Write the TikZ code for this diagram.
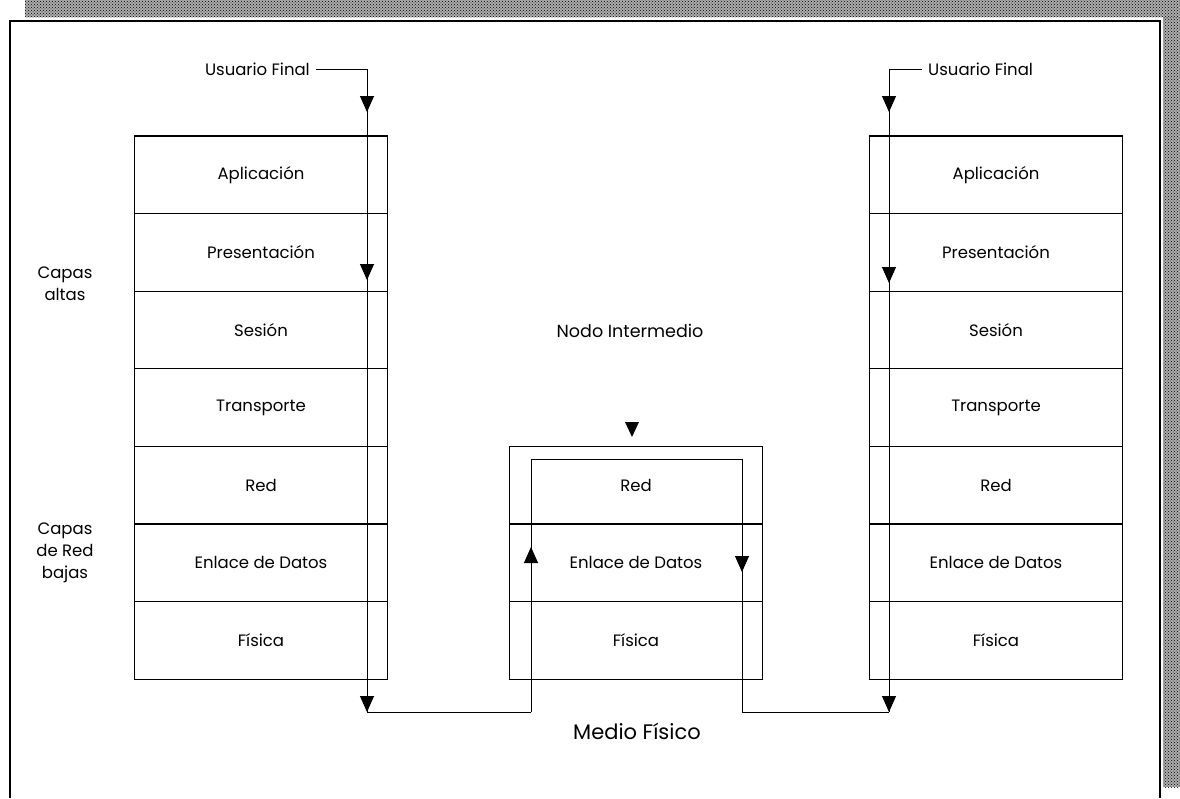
\documentclass[tikz,border=0pt]{standalone}
\usepackage{fontspec}
\setmainfont{Poppins}
\usetikzlibrary{arrows.meta}
\usetikzlibrary{decorations.markings}
\usetikzlibrary{patterns}

\tikzset{
  capa/.style={draw, line width=1.1pt, minimum width=253pt, minimum height=77.6pt,
    inner sep=0pt, font=\fontsize{16.5}{18}\selectfont},
  rotulo/.style={align=center, font=\fontsize{16.5}{22}\selectfont},
  usuario/.style={inner sep=6pt, font=\fontsize{16.5}{18}\selectfont},
  flow/.style={line width=0.9pt},
  % filled triangles sitting on the lines
  tip at/.style={postaction={decorate, decoration={markings,
    mark=at position #1 with {\arrow{Triangle[width=14pt,length=16pt]}}}}},
}

\begin{document}
\begin{tikzpicture}[x=1pt, y=-1pt]
  \useasboundingbox (0,0) rectangle (1180,798);

  % paper edge
  \fill[gray!65] (25,0) rectangle (1180,17);
  \fill[gray!65] (1163,17) rectangle (1180,787);
  \fill[pattern=crosshatch dots, pattern color=black] (25,0) rectangle (1180,17);
  \fill[pattern=crosshatch dots, pattern color=black] (1163,17) rectangle (1180,787);
  \draw[line width=1.6pt] (10,798) |- (1160,21) -- (1160,798);

  % the two end systems
  \foreach \name [count=\i] in {Aplicación, Presentación, Sesión, Transporte, Red, Enlace de Datos, Física} {
    \node[capa] (l\i) at (261,{174.8+77.6*(\i-1)}) {\name};
    \node[capa] (r\i) at (996,{174.8+77.6*(\i-1)}) {\name};
  }

  % intermediate node
  \foreach \name [count=\i from 5] in {Red, Enlace de Datos, Física}
    \node[capa] (m\i) at (636,{174.8+77.6*(\i-1)}) {\name};

  \node[rotulo] (altas) at (65,284) {Capas\\altas};
  \node[rotulo] (bajas) at (65,553) {Capas\\de Red\\bajas};
  \node[rotulo, font=\fontsize{17.5}{20}\selectfont] (nodo) at (630,331) {Nodo Intermedio};
  \node[usuario, anchor=east] (uf-l) at (316,69) {Usuario Final};
  \node[usuario, anchor=west] (uf-r) at (922,69) {Usuario Final};
  \node[font=\fontsize{21}{24}\selectfont] (medio) at (637,731) {Medio Físico};

  \coordinate (l-top) at (367,69);
  \coordinate (l-bot) at (367,712);
  \coordinate (ml-bot) at (531,712);
  \coordinate (ml-top) at (531,459);
  \coordinate (mr-top) at (742,459);
  \coordinate (mr-bot) at (742,712);
  \coordinate (r-bot) at (889,712);
  \coordinate (r-top) at (889,69);

  \draw[flow] (uf-l) -- (l-top);
  \draw[flow, tip at=43pt, tip at=211pt, tip at=1] (l-top) -- (l-bot);
  \draw[flow] (l-bot) -- (ml-bot);
  \draw[flow, tip at=165pt, tip at=577pt] (ml-bot) -- (ml-top) -- (mr-top) -- (mr-bot);
  \draw[flow] (mr-bot) -- (r-bot);
  \draw[flow, tip at=43pt, tip at=214pt, tip at=1] (r-top) -- (r-bot);
  \draw[flow] (r-top) -- (uf-r);

  \fill (632,437) -- ++(-7,-15) -- ++(14,0) -- cycle;
\end{tikzpicture}
\end{document}
